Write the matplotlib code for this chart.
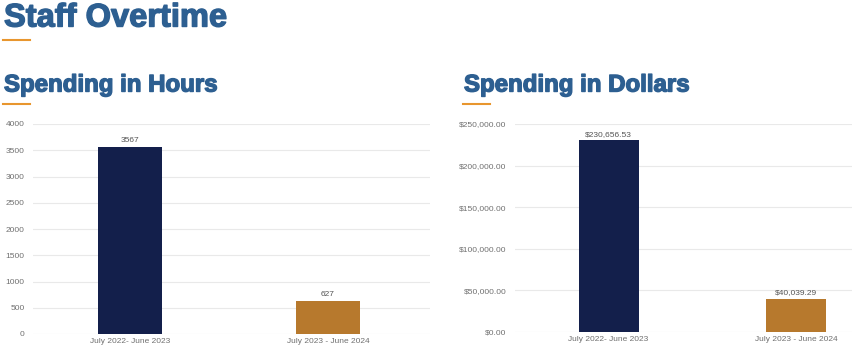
import matplotlib
matplotlib.use("Agg")
import matplotlib.pyplot as plt
import matplotlib.patheffects as pe
from matplotlib.ticker import FuncFormatter

periods = ["July 2022- June 2023", "July 2023 - June 2024"]
hours = [3567, 627]
dollars = [230656.53, 40039.29]
bar_colors = ["#131f4b", "#b7792d"]

title_blue = "#2d5f91"
accent = "#e8962e"

plt.rcParams["font.family"] = ["Liberation Sans", "DejaVu Sans"]

fig = plt.figure(figsize=(8.56, 3.56), dpi=100)
W, H = 856, 356
heavy = [pe.withStroke(linewidth=1.0, foreground=title_blue)]


def px_axes(x0, y0, x1, y1):
    return fig.add_axes([x0 / W, 1 - y1 / H, (x1 - x0) / W, (y1 - y0) / H])


def style(ax):
    for s in ax.spines.values():
        s.set_visible(False)
    ax.grid(axis="y", color="#e9e9e9", linewidth=0.8)
    ax.set_axisbelow(True)
    ax.tick_params(length=0, labelsize=6, labelcolor="#707070", pad=6)
    ax.tick_params(axis="x", pad=3)


# headings
fig.text(4 / W, 1 - 18 / H, "Staff Overtime", fontsize=23.5, fontweight="bold",
         color=title_blue, va="center", ha="left", path_effects=heavy)
fig.add_artist(plt.Line2D([3 / W, 30 / W], [1 - 40 / H] * 2, color=accent, lw=1.5))
for x, t in [(4, "Spending in Hours"), (464, "Spending in Dollars")]:
    fig.text(x / W, 1 - 85 / H, t, fontsize=17.3, fontweight="bold",
             color=title_blue, va="center", ha="left", path_effects=heavy)
    fig.add_artist(plt.Line2D([(x - 1) / W, (x + 26) / W], [1 - 104 / H] * 2, color=accent, lw=1.5))

# hours chart
ax1 = px_axes(33, 124, 430, 334)
ax1.bar(range(len(periods)), hours, width=0.32, color=bar_colors)
ax1.set_ylim(0, 4000)
ax1.set_yticks(range(0, 4001, 500))
ax1.set_xlim(-0.49, 1.515)
ax1.set_xticks(range(len(periods)))
ax1.set_xticklabels(periods)
style(ax1)
for i, v in enumerate(hours):
    ax1.text(i, v + 60, f"{v}", ha="center", va="bottom", fontsize=6, color="#555555")

# dollars chart
ax2 = px_axes(515, 124, 852, 332)
ax2.bar(range(len(periods)), dollars, width=0.32, color=bar_colors)
ax2.set_ylim(0, 250000)
ax2.set_yticks(range(0, 250001, 50000))
ax2.yaxis.set_major_formatter(FuncFormatter(lambda v, p: f"${v:,.2f}"))
ax2.set_xlim(-0.5, 1.3)
ax2.set_xticks(range(len(periods)))
ax2.set_xticklabels(periods)
style(ax2)
for i, v in enumerate(dollars):
    ax2.text(i, v + 3000, f"${v:,.2f}", ha="center", va="bottom", fontsize=6, color="#555555")

fig.savefig("out.png", dpi=100)
